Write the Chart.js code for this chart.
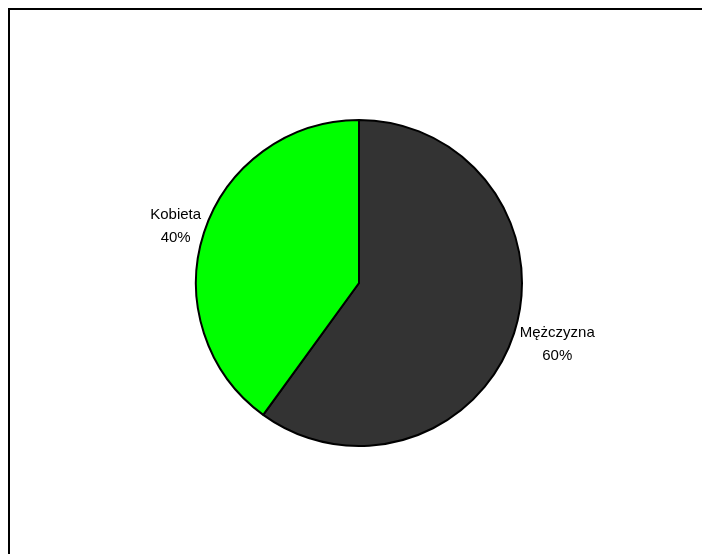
<!DOCTYPE html>
<html>
<head>
<meta charset="utf-8">
<script src="https://cdn.jsdelivr.net/npm/chart.js@4"></script>
<style>
  html, body { margin: 0; padding: 0; background: #fff; }
  canvas { display: block; }
</style>
</head>
<body>
<canvas id="chart" width="702" height="554"></canvas>
<script>
// Data
const labels = ['Mężczyzna', 'Kobieta'];
const shares = [60, 40];
const sliceColors = ['#333333', '#00FF00'];

// Frame around the plot area (runs off the right/bottom edge)
const framePlugin = {
  id: 'frame',
  beforeDraw(chart) {
    const ctx = chart.ctx;
    ctx.save();
    ctx.fillStyle = '#ffffff';
    ctx.fillRect(0, 0, chart.width, chart.height);
    ctx.strokeStyle = '#000000';
    ctx.lineWidth = 2;
    ctx.strokeRect(9, 9, chart.width, chart.height);
    ctx.restore();
  }
};

// Two-line labels outside each slice: name + percent
const outsideLabels = {
  id: 'outsideLabels',
  afterDatasetsDraw(chart) {
    const ctx = chart.ctx;
    const meta = chart.getDatasetMeta(0);
    const data = chart.data.datasets[0].data;
    const total = data.reduce((a, b) => a + b, 0);
    ctx.save();
    ctx.font = '15px "Liberation Sans", Arial, sans-serif';
    ctx.fillStyle = '#000000';
    ctx.textBaseline = 'middle';
    meta.data.forEach((arc, i) => {
      const mid = (arc.startAngle + arc.endAngle) / 2;
      const right = Math.cos(mid) >= 0;
      const r = arc.outerRadius + (right ? 6 : 3);
      const x = arc.x + Math.cos(mid) * r;
      const y = arc.y + Math.sin(mid) * r + (Math.sin(mid) > 0 ? 9 : -5);
      const lines = [chart.data.labels[i], Math.round(data[i] / total * 100) + '%'];
      const w = Math.max(...lines.map(t => ctx.measureText(t).width));
      const cx = right ? x + w / 2 : x - w / 2;
      ctx.textAlign = 'center';
      ctx.fillText(lines[0], cx, y - 11.5);
      ctx.fillText(lines[1], cx, y + 11.5);
    });
    ctx.restore();
  }
};

new Chart(document.getElementById('chart'), {
  type: 'pie',
  data: {
    labels: labels,
    datasets: [{
      data: shares,
      backgroundColor: sliceColors,
      borderColor: '#000000',
      borderWidth: 2,
      radius: 163
    }]
  },
  options: {
    responsive: false,
    animation: false,
    layout: { padding: { left: 36, right: 20, top: 72, bottom: 60 } },
    plugins: {
      legend: { display: false },
      tooltip: { enabled: false },
      title: { display: false }
    }
  },
  plugins: [framePlugin, outsideLabels]
});
</script>
</body>
</html>
